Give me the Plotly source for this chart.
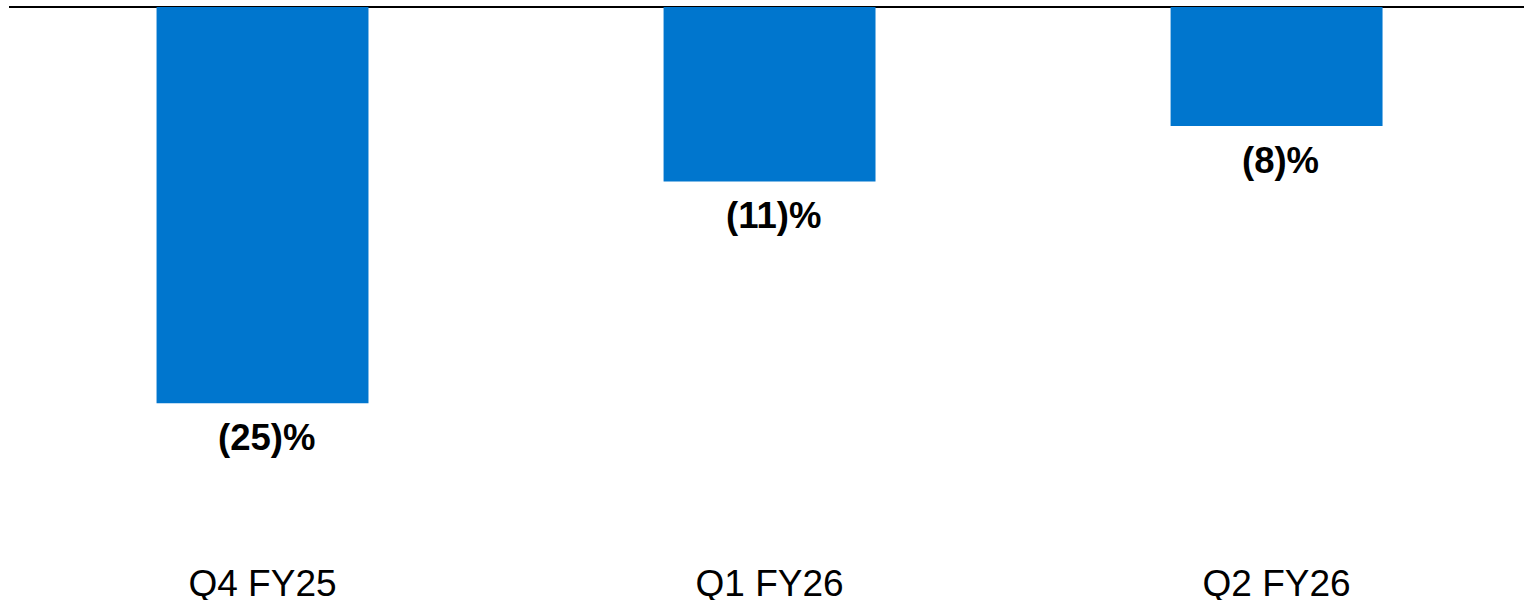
import plotly.graph_objects as go

categories = ["Q4 FY25", "Q1 FY26", "Q2 FY26"]
values = [-25, -11, -7.5]
labels = ["(25)%", "(11)%", "(8)%"]

fig = go.Figure()
fig.add_trace(go.Bar(
    x=categories, y=values,
    marker=dict(color="#0076CE", line=dict(width=0)),
    hoverinfo="skip",
))
for c, v, t in zip(categories, values, labels):
    fig.add_annotation(
        x=c, y=v, text=t, showarrow=False, yanchor="top", yshift=-12, xshift=4,
        font=dict(family="Liberation Sans, Arial, sans-serif", size=36.5, color="#000000", weight="bold"),
    )

fig.update_layout(
    width=1524, height=600,
    margin=dict(l=9, r=0, t=7, b=54),
    paper_bgcolor="white", plot_bgcolor="white",
    bargap=0.582,
    showlegend=False,
    font=dict(family="Liberation Sans, Arial, sans-serif", size=37, color="#000000"),
)
fig.update_xaxes(
    range=[-0.5, 2.488], showgrid=False, showline=False, zeroline=False,
    ticks="", tickfont=dict(size=37, color="#000000"), ticklabelstandoff=12,
    automargin=False,
)
fig.update_yaxes(
    range=[-34, 0], showgrid=False, showticklabels=False, showline=False,
    zeroline=True, zerolinecolor="#000000", zerolinewidth=2, automargin=False,
)
fig.write_html("out.html")
